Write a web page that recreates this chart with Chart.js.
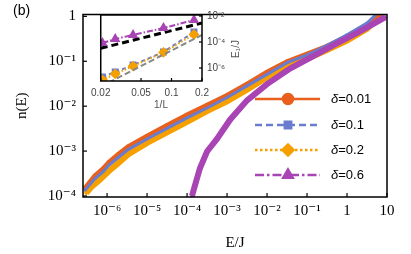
<!DOCTYPE html>
<html>
<head>
<meta charset="utf-8">
<script src="https://cdn.jsdelivr.net/npm/chart.js@4"></script>
<style>
body{margin:0;background:#fff}
#wrap{position:relative;width:411px;height:254px}
#main{position:absolute;left:0;top:0}
#inset{position:absolute;left:85px;top:5px}
</style>
</head>
<body>
<div id="wrap">
<canvas id="main" width="411" height="254"></canvas>
<canvas id="inset" width="160" height="110"></canvas>
</div>
<script>
/* <><><><> main panel data : n(E) vs E/J <><><><> */
let energy01 = [2.8e-7, 5.0e-7, 7.9e-7, 1.12e-6, 1.9e-6, 3.35e-6, 1e-5, 3.16e-5, 1e-4, 3.16e-4, 1e-3, 3.16e-3, 1e-2, 3.16e-2, 0.1, 0.316, 1, 3.16, 6.7]
let dos01 = [1.49e-4, 2.83e-4, 4.0e-4, 5.66e-4, 8.4e-4, 1.25e-3, 2.15e-3, 3.7e-3, 6.4e-3, 1.05e-2, 1.73e-2, 3.1e-2, 5.7e-2, 9.8e-2, 0.145, 0.215, 0.353, 0.61, 1.05]

let energy1 = [2.8e-7, 5.0e-7, 7.9e-7, 1.12e-6, 1.9e-6, 3.35e-6, 1e-5, 3.16e-5, 1e-4, 3.16e-4, 1e-3, 3.16e-3, 1e-2, 3.16e-2, 0.1, 0.316, 1, 3.16, 6.0]
let dos1 = [1.35e-4, 2.44e-4, 3.45e-4, 4.9e-4, 7.2e-4, 1.08e-3, 1.86e-3, 3.2e-3, 5.5e-3, 9.1e-3, 1.56e-2, 2.83e-2, 5.1e-2, 9.3e-2, 0.138, 0.226, 0.39, 0.71, 1.22]

let energy2 = [3.0e-7, 4.2e-7, 6.7e-7, 1.06e-6, 1.9e-6, 3.35e-6, 1e-5, 3.16e-5, 1e-4, 3.16e-4, 1e-3, 3.16e-3, 1e-2, 3.16e-2, 0.1, 0.316, 1, 3.16, 6.7]
let dos2 = [1.16e-4, 1.64e-4, 2.32e-4, 3.45e-4, 5.4e-4, 8.4e-4, 1.52e-3, 2.6e-3, 4.5e-3, 7.8e-3, 1.28e-2, 2.32e-2, 4.4e-2, 8.0e-2, 0.113, 0.177, 0.29, 0.525, 1.0]

let energy6 = [1.33e-4, 1.58e-4, 2.11e-4, 3.16e-4, 5.6e-4, 1.19e-3, 3.16e-3, 1e-2, 3.76e-2, 0.119, 0.447, 1.78, 4.47, 8.9]
let dos6 = [1.0e-4, 1.73e-4, 4.2e-4, 9.8e-4, 1.86e-3, 5.0e-3, 1.35e-2, 3.1e-2, 6.9e-2, 0.119, 0.226, 0.43, 0.67, 0.95]

let labels = ['0.01', '0.1', '0.2', '0.6']

let xTicks = [1e-6, 1e-5, 1e-4, 1e-3, 1e-2, 1e-1, 1, 10]
let xTickLabels = ['10⁻⁶', '10⁻⁵', '10⁻⁴', '10⁻³', '10⁻²', '10⁻¹', '1', '10']
let yTicks = [1e-4, 1e-3, 1e-2, 1e-1, 1]
let yTickLabels = ['10⁻⁴', '10⁻³', '10⁻²', '10⁻¹', '1']

/* <><><><> inset data : E1/J vs 1/L <><><><> */
let invL = [0.0208, 0.0278, 0.0417, 0.0833, 0.1667]
let gap6 = [8.3e-5, 1.7e-4, 3.5e-4, 1.2e-3, 4.9e-3]
let gap1 = [2.0e-7, 4.9e-7, 1.7e-6, 1.7e-5, 6.0e-4]
let gap2 = [1.2e-7, 3.5e-7, 1.4e-6, 1.6e-5, 3.8e-4]
let fitX = [0.02, 0.2]
let fitBig = [3.3e-5, 2.9e-3]
let fitSmall = [3.7e-8, 3.5e-4]

let insetXTicks = [0.02, 0.05, 0.1, 0.2]
let insetXLabels = ['0.02', '0.05', '0.1', '0.2']
let insetYTicks = [1e-6, 1e-4, 1e-2]
let insetYLabels = ['10⁻⁶', '10⁻⁴', '10⁻²']

let red = '#e8601c'
let blue = '#6a7ccd'
let orange = '#f6a000'
let purple = '#a844b4'

let serif = "'Liberation Serif', 'DejaVu Serif', serif"
let sans = "'Liberation Sans', Arial, sans-serif"

function pts(xs, ys) {
    return xs.map((x, i) => ({x: x, y: ys[i]}))
}

/* <><><><> frame + inward ticks <><><><> */
function drawFrame(chart, xName, yName, side, tickLen) {
    let ctx = chart.ctx
    let a = chart.chartArea
    ctx.save()
    ctx.strokeStyle = '#000'
    ctx.lineWidth = 1.5
    ctx.setLineDash([])
    ctx.strokeRect(a.left, a.top, a.right - a.left, a.bottom - a.top)
    ctx.lineWidth = 1.2
    let xs = chart.scales[xName]
    xs.ticks.forEach(t => {
        let px = xs.getPixelForValue(t.value)
        ctx.beginPath(); ctx.moveTo(px, a.bottom); ctx.lineTo(px, a.bottom - tickLen); ctx.stroke()
    })
    let ys = chart.scales[yName]
    ys.ticks.forEach(t => {
        let py = ys.getPixelForValue(t.value)
        let x0 = side == 'left' ? a.left : a.right
        let x1 = side == 'left' ? a.left + tickLen : a.right - tickLen
        ctx.beginPath(); ctx.moveTo(x0, py); ctx.lineTo(x1, py); ctx.stroke()
    })
    ctx.restore()
}

let mainDecor = {
    id: 'mainDecor',
    afterDraw(chart) {
        drawFrame(chart, 'x', 'y', 'left', 4)
        let ctx = chart.ctx
        ctx.save()
        // panel tag
        ctx.fillStyle = '#000'
        ctx.font = '14px ' + sans
        ctx.textBaseline = 'middle'
        ctx.fillText('(b)', 13, 11)
        // legend
        let rows = [99, 125, 150, 175]
        chart.data.datasets.forEach((ds, i) => {
            let y = rows[i]
            ctx.strokeStyle = ds.borderColor
            ctx.fillStyle = ds.borderColor
            ctx.lineWidth = 2.5
            ctx.setLineDash(ds.legendDash)
            ctx.beginPath(); ctx.moveTo(255, y); ctx.lineTo(320, y); ctx.stroke()
            ctx.setLineDash([])
            Chart.helpers.drawPoint(ctx, {pointStyle: ds.pointStyle, radius: ds.legendRadius, rotation: 0, borderWidth: 1}, 288, y)
            ctx.fillStyle = '#000'
            ctx.font = 'italic 13px ' + sans
            ctx.fillText('δ', 331, y)
            let w = ctx.measureText('δ').width
            ctx.font = '13px ' + sans
            ctx.fillText('=' + labels[i], 331 + w, y)
        })
        ctx.restore()
    }
}

let mainChart = new Chart(document.getElementById('main'), {
    type: 'line',
    data: {
        datasets: [
            {label: 'δ=0.01', data: pts(energy01, dos01), borderColor: red, backgroundColor: red, borderWidth: 5,
             pointStyle: 'circle', pointRadius: 2.2, pointBorderWidth: 0, legendRadius: 5, legendDash: [], order: 2},
            {label: 'δ=0.1', data: pts(energy1, dos1), borderColor: blue, backgroundColor: blue, borderWidth: 3,
             pointStyle: 'rect', pointRadius: 1.8, pointBorderWidth: 0, legendRadius: 4.5, legendDash: [7, 4], order: 1},
            {label: 'δ=0.2', data: pts(energy2, dos2), borderColor: orange, backgroundColor: orange, borderWidth: 6,
             pointStyle: 'rectRot', pointRadius: 2.5, pointBorderWidth: 0, legendRadius: 5.5, legendDash: [2.5, 2.5], order: 3},
            {label: 'δ=0.6', data: pts(energy6, dos6), borderColor: purple, backgroundColor: purple, borderWidth: 6,
             pointStyle: 'triangle', pointRadius: 3, pointBorderWidth: 0, legendRadius: 5.5, legendDash: [9, 3, 2.5, 3], order: 0}
        ]
    },
    options: {
        responsive: false,
        animation: false,
        events: [],
        layout: {padding: {top: 8, right: 24, left: 0, bottom: 0}},
        plugins: {legend: {display: false}, tooltip: {enabled: false}},
        scales: {
            x: {
                type: 'logarithmic', min: 2.5e-7, max: 10,
                afterBuildTicks: s => { s.ticks = xTicks.map(v => ({value: v})) },
                afterFit: s => { s.height = 57 },
                grid: {display: false, drawTicks: false},
                border: {display: false},
                ticks: {autoSkip: false, maxRotation: 0, padding: 5, color: '#000',
                        font: {family: serif, size: 15},
                        callback: (v, i) => xTickLabels[i]},
                title: {display: true, text: 'E/J', color: '#000', font: {family: serif, size: 15}, padding: {top: 0, bottom: 2}}
            },
            y: {
                type: 'logarithmic', min: 9.5e-5, max: 1.1,
                afterBuildTicks: s => { s.ticks = yTicks.map(v => ({value: v})) },
                afterFit: s => { s.width = 83 },
                grid: {display: false, drawTicks: false},
                border: {display: false},
                ticks: {autoSkip: false, padding: 7, color: '#000',
                        font: {family: serif, size: 15, lineHeight: 1},
                        callback: (v, i) => yTickLabels[i]},
                title: {display: true, text: 'n(E)', color: '#000', font: {family: serif, size: 15}, padding: {top: 13, bottom: 0}}
            }
        }
    },
    plugins: [mainDecor]
})

/* <><><><> inset <><><><> */
let insetDecor = {
    id: 'insetDecor',
    beforeDatasetsDraw(chart) {
        let a = chart.chartArea
        chart.ctx.save()
        chart.ctx.fillStyle = '#fff'
        chart.ctx.fillRect(a.left, a.top, a.right - a.left, a.bottom - a.top)
        chart.ctx.restore()
    },
    afterDraw(chart) {
        drawFrame(chart, 'x', 'y', 'right', 3)
        let ctx = chart.ctx
        ctx.save()
        ctx.fillStyle = '#555'
        ctx.font = '10px ' + sans
        ctx.textAlign = 'center'
        ctx.textBaseline = 'middle'
        ctx.fillText('1/L', 76, 100)
        ctx.translate(151, 44)
        ctx.rotate(-Math.PI / 2)
        ctx.fillText('E₁/J', 0, 0)
        ctx.restore()
    }
}

let insetChart = new Chart(document.getElementById('inset'), {
    type: 'line',
    data: {
        datasets: [
            {data: pts(fitX, fitBig), borderColor: '#000', borderWidth: 3, borderDash: [7, 4], pointRadius: 0, order: 2},
            {data: pts(fitX, fitSmall), borderColor: '#888', borderWidth: 2, borderDash: [6, 3], pointRadius: 0, order: 1},
            {data: pts(invL, gap6), borderColor: purple, backgroundColor: purple, borderWidth: 2, borderDash: [6, 2, 1.5, 2],
             pointStyle: 'triangle', pointRadius: 4, order: 0},
            {data: pts(invL, gap1), borderColor: blue, backgroundColor: blue, borderWidth: 2, borderDash: [4, 3],
             pointStyle: 'rect', pointRadius: 3.5, order: 4},
            {data: pts(invL, gap2), borderColor: orange, backgroundColor: orange, borderWidth: 2, borderDash: [1.5, 2],
             pointStyle: 'rectRot', pointRadius: 4, order: 3}
        ]
    },
    options: {
        responsive: false,
        animation: false,
        events: [],
        layout: {padding: {top: 10, left: 10, right: 0, bottom: 0}},
        plugins: {legend: {display: false}, tooltip: {enabled: false}},
        scales: {
            x: {
                type: 'logarithmic', min: 0.02, max: 0.2,
                afterBuildTicks: s => { s.ticks = insetXTicks.map(v => ({value: v})) },
                afterFit: s => { s.height = 34 },
                grid: {display: false, drawTicks: false},
                border: {display: false},
                ticks: {autoSkip: false, maxRotation: 0, padding: 6, color: '#444',
                        font: {family: sans, size: 10},
                        callback: (v, i) => insetXLabels[i]}
            },
            y: {
                type: 'logarithmic', position: 'right', min: 1e-7, max: 1.2e-2,
                afterBuildTicks: s => { s.ticks = insetYTicks.map(v => ({value: v})) },
                afterFit: s => { s.width = 43 },
                grid: {display: false, drawTicks: false},
                border: {display: false},
                ticks: {autoSkip: false, padding: 5, color: '#444',
                        font: {family: sans, size: 10, lineHeight: 1},
                        callback: (v, i) => insetYLabels[i]}
            }
        }
    },
    plugins: [insetDecor]
})
</script>
</body>
</html>
